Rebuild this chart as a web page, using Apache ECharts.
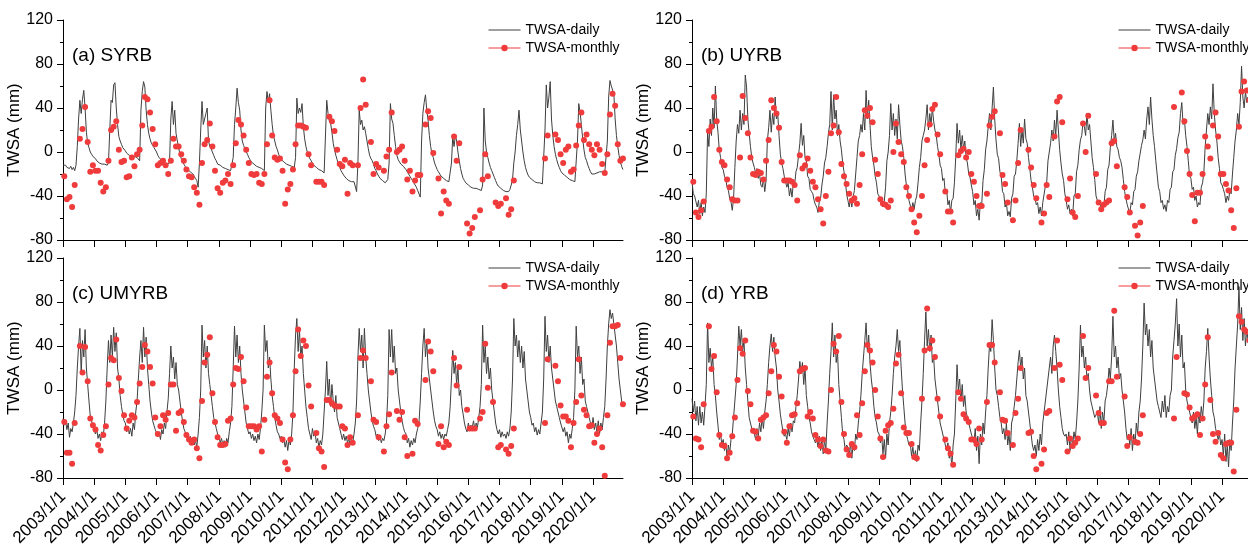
<!DOCTYPE html>
<html>
<head>
<meta charset="utf-8">
<script src="https://cdn.jsdelivr.net/npm/echarts@6/dist/echarts.min.js"></script>
<style>
  html, body { margin: 0; padding: 0; background: #fff; }
  #main { width: 1248px; height: 546px; }
</style>
</head>
<body>
<div id="main"></div>
<script type="text/javascript">
// tick labels of the time axis (decimal year -> label)
var tickYears = [2003, 2004, 2005, 2006, 2007, 2008, 2009, 2010, 2011, 2012, 2013, 2014, 2015, 2016, 2017, 2018, 2019, 2020];
var tickLabels = ['2003/1/1', '2004/1/1', '2005/1/1', '2006/1/1', '2007/1/1', '2008/1/1', '2009/1/1', '2010/1/1', '2011/1/1',
    '2012/1/1', '2013/1/1', '2014/1/1', '2015/1/1', '2016/1/1', '2017/1/1', '2018/1/1', '2019/1/1', '2020/1/1'];
var panelNames = ['(a) SYRB', '(b) UYRB', '(c) UMYRB', '(d) YRB'];

// daily TWSA, every half month (1st and 16th), one row per year 2003..2020
var dailyA = [
    [-12,-13,-12,-14,-13,-15,-13,-16,-14,-17,-12,5,30,47,35,48,56,40,18,8,4,0,-2,-4],
    [-5,-6,-8,-9,-10,-10,-11,-11,-11,-12,-12,-10,20,47,45,61,63,40,25,14,10,7,4,3],
    [1,-1,-2,-3,-3,-4,-4,-4,-5,-5,-5,-8,38,55,64,59,38,25,17,12,8,6,4,2],
    [0,-3,-5,-6,-8,-9,-10,-11,-11,-12,-10,30,46,25,38,17,10,4,-2,-6,-9,-11,-13,-14],
    [-16,-17,-18,-19,-20,-22,-24,-26,-32,-10,20,46,25,30,35,40,10,5,3,0,-3,-6,-8,-11],
    [-11,-12,-13,-14,-14,-15,-15,-16,-16,-17,-17,-5,25,40,58,45,38,20,10,6,3,0,-2,-5],
    [-7,-9,-10,-11,-12,-13,-13,-14,-15,-15,-16,-17,40,55,45,53,38,25,15,10,5,2,-2,-5],
    [-7,-8,-9,-10,-11,-12,-12,-13,-13,-14,-14,-5,49,35,40,36,44,23,12,5,0,-3,-6,-8],
    [-10,-12,-13,-14,-15,-16,-17,-17,-18,-19,-20,47,35,28,26,18,8,2,-3,-7,-11,-14,-17,-19],
    [-21,-22,-24,-25,-26,-26,-27,-27,-27,-28,-36,-10,38,25,29,20,23,17,10,3,-3,-6,-8,-11],
    [-15,-17,-20,-22,-24,-25,-26,-27,-28,-27,-25,-10,44,30,26,15,5,-3,-7,-9,-11,-12,-13,-14],
    [-16,-18,-20,-22,-24,-26,-28,-30,-32,-35,-38,-41,10,35,45,52,38,29,15,5,-2,-5,-10,-13],
    [-16,-18,-20,-22,-23,-24,-25,-26,-26,-27,-27,-10,14,5,15,10,0,-8,-15,-20,-24,-26,-28,-29],
    [-30,-31,-32,-32,-33,-33,-33,-34,-34,-34,-35,-30,40,10,0,-5,-10,-14,-17,-20,-23,-26,-29,-31],
    [-32,-33,-34,-35,-35,-36,-36,-36,-34,-30,-25,-10,0,15,25,38,20,10,0,-8,-14,-18,-21,-23],
    [-24,-25,-26,-27,-27,-28,-28,-28,-29,-29,-29,20,61,40,50,64,30,15,5,-2,-7,-11,-14,-17],
    [-19,-20,-21,-22,-23,-24,-25,-25,-26,-26,-27,-27,10,44,36,25,12,2,-5,-8,-12,-15,-18,-20],
    [-20,-20,-19,-19,-18,-18,-18,-18,-18,-19,-19,10,50,65,60,59,53,30,15,5,-3,-9,-13,-16]
];
var dailyB = [
    [-27,-38,-40,-45,-50,-44,-56,-46,-58,-50,-55,-38,18,5,30,15,40,22,60,30,18,2,-5,-14],
    [-16,-22,-25,-32,-35,-42,-45,-53,-42,-14,10,25,17,38,20,35,25,70,59,30,17,5,-5,-10],
    [-14,-20,-15,-24,-20,-30,-32,-24,-36,-26,10,22,38,18,35,25,50,30,35,15,-2,-10,-15,-22],
    [-22,-32,-28,-40,-33,-41,-28,-30,-18,-14,-3,8,26,6,15,-5,-8,-22,-24,-34,-36,-38,-44,-48],
    [-50,-55,-45,-42,-30,-22,-10,-5,5,17,25,55,20,52,30,38,15,25,10,2,-10,-18,-26,-38],
    [-44,-50,-42,-50,-41,-35,-20,-5,10,15,25,18,35,20,56,30,47,25,5,-5,-12,-22,-28,-38],
    [-40,-45,-44,-50,-45,-32,-8,0,15,44,20,35,15,30,12,43,25,10,5,-5,-20,-30,-35,-44],
    [-45,-53,-46,-52,-44,-40,-28,-14,-5,10,15,20,30,43,20,35,25,40,28,20,15,5,-2,-12],
    [-15,-26,-24,-38,-34,-48,-44,-55,-44,-42,-28,-5,26,8,20,2,15,3,10,-5,-10,-20,-23,-30],
    [-36,-48,-44,-58,-52,-62,-46,-48,-26,-16,2,10,23,35,20,40,59,30,11,-2,-6,-18,-22,-36],
    [-38,-50,-46,-58,-54,-59,-42,-38,-22,-20,-8,8,26,5,20,8,30,12,8,-5,-15,-26,-32,-40],
    [-42,-48,-46,-56,-50,-58,-46,-47,-31,-28,-8,0,8,20,10,29,15,38,20,2,-10,-20,-26,-38],
    [-44,-52,-48,-56,-52,-58,-40,-38,-18,-12,2,11,15,28,23,15,35,20,25,10,-5,-14,-25,-40],
    [-40,-48,-44,-52,-46,-50,-36,-32,-16,-12,4,15,29,10,17,5,2,-5,-8,-14,-25,-36,-42,-48],
    [-48,-56,-46,-48,-36,-34,-22,-18,-8,-8,6,11,20,12,30,41,25,50,30,15,5,-8,-20,-32],
    [-36,-46,-44,-52,-48,-54,-44,-46,-34,-32,-18,-16,-3,3,13,18,35,45,25,30,15,5,-8,-22],
    [-24,-34,-32,-44,-40,-50,-46,-48,-32,-28,-18,5,20,35,25,41,30,62,35,20,10,-5,-15,-28],
    [-30,-34,-38,-46,-40,-44,-35,-38,-20,-5,10,20,35,25,45,78,50,40,55,45,50,40,35,25]
];
var dailyC = [
    [-26,-32,-28,-36,-30,-43,-35,-38,-30,-20,-5,20,40,56,15,45,30,55,20,5,-10,-24,-28,-33],
    [-34,-40,-36,-44,-40,-46,-38,-42,-30,-10,20,45,25,50,30,57,35,52,20,10,-5,-15,-22,-28],
    [-30,-38,-33,-40,-35,-42,-30,-36,-20,-10,10,30,45,25,57,30,48,20,5,-10,-20,-28,-32,-36],
    [-35,-42,-38,-45,-36,-40,-30,-35,-20,-8,15,40,20,30,10,25,5,0,-10,-20,-28,-35,-38,-42],
    [-40,-46,-42,-48,-44,-50,-46,-52,-40,-25,0,59,30,45,20,40,15,5,-5,-15,-25,-30,-35,-40],
    [-42,-48,-44,-50,-46,-52,-44,-48,-38,-30,-15,20,58,30,50,25,40,15,0,-10,-20,-30,-35,-40],
    [-38,-44,-40,-46,-42,-48,-40,-45,-35,-20,0,59,35,45,20,30,10,-5,-15,-25,-32,-38,-40,-44],
    [-42,-48,-45,-52,-46,-55,-45,-50,-40,-20,20,50,65,35,55,30,40,15,0,-15,-25,-35,-40,-45],
    [-35,-42,-38,-48,-44,-52,-46,-50,-40,-20,0,26,-5,10,-15,5,-10,-20,-5,-25,-30,-35,-40,-45],
    [-40,-46,-42,-48,-44,-50,-45,-48,-40,-30,-10,30,56,35,50,20,56,30,15,0,-10,-20,-28,-33],
    [-36,-42,-40,-46,-42,-48,-44,-46,-40,-30,-5,55,30,55,25,40,15,20,0,-10,-20,-28,-34,-38],
    [-40,-48,-44,-52,-46,-50,-44,-48,-40,-35,-30,-10,15,40,56,30,45,20,10,0,-10,-20,-28,-33],
    [-36,-42,-38,-44,-40,-45,-40,-42,-36,-30,-15,10,36,15,25,5,20,-5,0,-15,-22,-30,-35,-38],
    [-30,-36,-32,-34,-28,-36,-30,-34,-25,-15,5,59,25,40,15,30,10,20,0,-10,-20,-30,-36,-40],
    [-36,-43,-38,-42,-40,-44,-38,-42,-35,-20,10,65,40,50,30,45,25,40,20,35,10,0,-10,-20],
    [-25,-32,-30,-38,-34,-41,-36,-40,-30,-20,10,67,35,50,25,40,20,10,0,-10,-15,-20,-25,-30],
    [-30,-38,-34,-42,-38,-48,-40,-44,-35,-25,0,58,30,40,15,30,5,10,-10,-15,-20,-25,-30,-35],
    [-25,-36,-30,-38,-28,-40,-30,-36,-25,-15,10,40,60,73,65,70,60,50,40,25,10,0,-10,-15]
];
var dailyD = [
    [-8,-20,-10,-28,-15,-32,-15,-30,-20,-32,-15,5,61,25,38,20,30,5,-5,-20,-32,-45,-40,-50],
    [-45,-55,-48,-62,-50,-58,-45,-40,-25,-10,5,30,58,40,55,35,45,20,5,-10,-25,-30,-35,-38],
    [-40,-45,-35,-42,-30,-38,-25,-35,-20,-10,5,25,40,51,35,48,30,20,0,-10,-22,-30,-38,-42],
    [-40,-45,-35,-42,-30,-38,-28,-30,-15,-5,10,26,15,25,5,20,-5,-15,-25,-30,-38,-42,-45,-48],
    [-45,-52,-42,-55,-45,-58,-45,-55,-30,-10,15,35,61,30,50,25,35,5,-10,-25,-40,-45,-55,-50],
    [-52,-60,-48,-62,-50,-55,-40,-45,-30,-20,-5,15,30,45,61,35,50,25,10,0,-15,-25,-30,-38],
    [-40,-48,-42,-58,-45,-62,-40,-50,-30,-20,-5,15,30,40,55,35,45,20,0,-15,-30,-40,-45,-50],
    [-48,-60,-52,-62,-55,-65,-50,-55,-30,-10,15,45,71,40,55,35,50,25,30,10,0,-10,-20,-30],
    [-30,-40,-45,-50,-55,-48,-62,-55,-70,-50,-40,-10,23,0,10,-10,5,-15,-5,-20,-25,-30,-35,-40],
    [-40,-48,-35,-55,-42,-67,-40,-50,-30,-40,-20,-5,20,41,35,64,45,20,0,-5,-15,-25,-30,-40],
    [-35,-45,-30,-50,-40,-55,-30,-25,-15,-5,10,25,36,20,30,10,20,-5,-10,-20,-30,-40,-50,-55],
    [-50,-60,-45,-55,-40,-50,-30,-20,-10,0,10,20,30,15,40,50,35,20,0,-15,-25,-35,-40,-42],
    [-40,-50,-38,-55,-42,-50,-38,-45,-30,-10,20,59,30,40,20,30,10,15,0,-10,-15,-20,-25,-25],
    [-20,-30,-15,-35,-20,-30,-10,-5,5,20,10,30,67,30,40,20,30,10,15,0,-10,-20,-35,-45],
    [-40,-50,-35,-55,-40,-50,-30,-40,-20,-10,10,40,79,50,60,40,55,30,45,20,10,0,-10,-15],
    [-15,-25,-10,-20,-5,-25,-15,-20,-5,0,30,45,60,83,40,60,30,50,20,25,0,-10,-15,-20],
    [-25,-30,-20,-35,-25,-40,-20,-30,-15,-25,-10,20,35,56,30,10,-5,-20,-25,-35,-40,-45,-40,-50],
    [-45,-60,-40,-65,-50,-70,-45,-55,-30,-10,20,40,60,94,55,75,45,65,40,55,45,50,40,35]
];

// monthly TWSA (mid-month), one row per year 2003..2020, null = no value
var monthlyA = [
    [-22,-43,-41,-50,-30,null,12,21,41,9,-18,-12],
    [-17,-17,-28,-36,-32,-8,20,23,28,2,-9,-8],
    [-23,-22,-5,-13,-2,2,24,50,48,36,21,7],
    [-12,-10,-8,-12,-20,-8,12,5,5,-2,-8,-16],
    [-22,-23,-32,-37,-48,-10,7,11,26,5,-17,-33],
    [-37,-28,-26,-20,-29,-12,8,29,25,15,2,-10],
    [-20,-21,-20,-28,-29,-20,7,47,15,-5,-7,-6],
    [-17,-47,-34,-29,-16,7,24,24,23,22,-2,-12],
    [null,-27,-27,-27,-30,null,32,28,19,2,-11,-13],
    [-7,-38,-10,-12,null,-12,40,66,43,null,9,-20],
    [-11,-14,null,-17,-4,2,36,null,0,2,5,-8],
    [-25,-17,-36,-26,-21,-21,null,25,37,31,-1,null],
    [-24,-56,-36,-44,-47,null,14,-8,8,null,null,-65],
    [-74,-69,-59,null,-53,-25,-2,-22,null,null,-46,-49],
    [-47,null,-42,-57,-52,-26,null,null,null,null,null,null],
    [null,null,null,null,null,-6,15,null,null,16,11,-2],
    [-10,2,5,-18,-16,6,24,36,11,16,7,2],
    [-3,7,2,-11,-19,-2,34,53,42,7,-8,-6]
];
var monthlyB = [
    [-27,-55,-59,-53,-45,null,19,23,50,28,2,-9],
    [-12,-25,-32,-43,-44,-44,-5,51,31,17,-5,-20],
    [-21,-18,-19,-25,-8,11,47,40,35,22,-9,-26],
    [-26,-26,-27,-30,-44,-3,-15,-12,-6,-17,-27,-32],
    [-43,-52,-65,-40,-18,17,24,50,18,-11,-22,-29],
    [-38,-44,-42,-47,-30,-2,38,33,40,27,-7,-20],
    [-43,-47,-48,-50,-44,0,26,9,-2,-9,-32,-40],
    [-52,-64,-73,-58,-40,-12,11,25,39,43,16,-2],
    [null,-36,-54,-54,-64,null,-3,1,3,-5,0,-20],
    [-27,-40,-49,-49,null,-38,24,32,37,null,17,-21],
    [-29,-46,null,-62,-44,-10,20,null,null,2,-14,-30],
    [-42,null,-64,-56,-30,-41,null,14,46,50,27,null],
    [-43,-24,-55,-59,-40,null,26,0,33,null,null,-20],
    [-46,-52,-48,-46,-44,8,10,-13,null,null,-32,-41],
    [-55,null,-67,-76,-64,-49,null,null,null,null,null,null],
    [null,null,null,null,null,41,null,null,54,28,1,-20],
    [-39,-63,-37,-37,-20,14,5,-6,24,36,14,-20],
    [-20,-29,-35,-53,-69,-33,23,55,64,56,47,30]
];
var monthlyC = [
    [-29,-57,-57,-67,-30,null,40,16,39,8,-26,-32],
    [-36,-50,-55,-41,-33,5,29,27,46,11,-1,-23],
    [-35,-28,-23,-25,-11,6,21,41,35,21,6,-25],
    [-40,-33,-23,-27,-21,5,5,-37,-21,-19,-29,-41],
    [-45,-48,-45,-53,-62,-10,25,32,48,-3,-29,-43],
    [-50,-50,-49,-28,-26,5,20,19,30,8,-16,-33],
    [-33,-33,-36,-33,-56,-27,12,25,-3,-23,-26,-30],
    [-45,-66,-72,-45,-23,17,55,31,45,40,4,-15],
    [null,-39,-53,-56,-70,-9,-9,-12,-14,-15,-15,-33],
    [-35,-50,-43,-48,null,-23,29,36,29,null,8,-27],
    [-29,-43,null,-56,-33,-22,16,null,-19,-27,-20,-43],
    [-60,null,-58,-28,-31,null,null,9,44,35,17,null],
    [-49,-33,-52,-47,-50,null,29,4,21,null,null,-18],
    [-35,-35,-35,null,-26,-20,42,2,null,-11,null,-52],
    [-50,null,-54,-58,-51,-35,null,null,null,null,null,null],
    [null,null,null,null,null,-30,28,null,null,22,8,-14],
    [-24,-24,-28,-52,-30,-11,28,-5,-18,-23,-33,-32],
    [-48,-40,-35,-52,-78,-23,43,58,58,59,29,-13]
];
var monthlyD = [
    [-24,-44,-45,-52,-13,null,58,19,31,-2,-41,-50],
    [-51,-62,-57,-42,-25,9,38,33,45,-1,-13,-37],
    [-38,-44,-27,-25,-23,-3,17,41,35,12,-6,-38],
    [-48,-33,-23,-22,-12,17,19,20,-24,-20,-26,-41],
    [-45,-51,-45,-55,-56,0,42,35,49,-11,-40,-54],
    [-59,-49,-52,-23,-41,-12,17,41,36,25,0,-24],
    [-44,-61,-37,-32,-30,-17,24,32,-3,-34,-39,-39],
    [-49,-61,-62,null,-8,36,74,38,45,30,-8,-24],
    [null,-45,-53,-58,-68,null,-2,-8,-22,-26,-29,-45],
    [-45,-49,-35,-45,null,-11,41,41,25,null,-2,-27],
    [-28,-39,null,-50,-21,-8,20,null,null,-39,-38,-60],
    [-72,null,-67,-54,-21,-19,null,20,45,23,9,null],
    [-56,-44,-51,-48,-44,null,49,11,20,null,null,-5],
    [-21,-30,-30,null,8,8,72,12,null,null,-6,-51],
    [-43,null,-47,-48,-40,-23,null,null,null,null,null,null],
    [null,null,null,null,null,-26,30,null,null,-3,-4,-16],
    [-26,-24,-22,-41,-26,5,48,-9,-40,-47,-39,-59],
    [-62,-49,-48,-48,-74,-18,67,62,55,53,45,30]
];

var FONT = '"Liberation Sans", Arial, Helvetica, sans-serif';
var RED = '#ef3b3b';
var GREY = '#3f3f3f';

function flat(rows) {
    return rows.reduce(function (a, r) { return a.concat(r); }, []);
}
function dailyPoints(rows) {
    return flat(rows).map(function (v, i) { return [2003 + i / 24, v]; });
}
function monthlyPoints(rows) {
    var out = [];
    flat(rows).forEach(function (v, j) {
        if (v !== null) out.push([2003 + (j + 0.5) / 12, v]);
    });
    return out;
}

var dailyAll = [dailyA, dailyB, dailyC, dailyD];
var monthlyAll = [monthlyA, monthlyB, monthlyC, monthlyD];

// panel placement
var lefts = [63, 692, 63, 692];
var tops = [20, 20, 258, 258];

var grids = [], xAxes = [], yAxes = [], series = [], legends = [], graphics = [];
for (var p = 0; p < 4; p++) {
    var bottomRow = p >= 2;
    grids.push({ left: lefts[p], top: tops[p], width: 560, height: 220, outerBoundsMode: 'none', containLabel: false });
    xAxes.push({
        type: 'value', gridIndex: p, min: 2003, max: 2020.96,
        axisLine: { onZero: false, lineStyle: { color: '#000', width: 1 } },
        axisTick: { length: 7, customValues: tickYears, lineStyle: { color: '#000' } },
        axisLabel: {
            show: bottomRow, rotate: 45, margin: 16, fontSize: 17, color: '#000', fontFamily: FONT,
            customValues: tickYears,
            formatter: function (v) { return tickLabels[tickYears.indexOf(Math.round(v))] || ''; }
        },
        splitLine: { show: false }
    });
    yAxes.push({
        type: 'value', gridIndex: p, min: -80, max: 120, interval: 40,
        name: 'TWSA (mm)', nameLocation: 'middle', nameGap: p % 2 ? 35 : 30,
        nameTextStyle: { fontSize: 17, color: '#000', fontFamily: FONT },
        axisLine: { show: true, onZero: false, lineStyle: { color: '#000', width: 1 } },
        axisTick: { show: true, length: 6, lineStyle: { color: '#000' } },
        minorTick: { show: true, splitNumber: 2, length: 3, lineStyle: { color: '#000' } },
        axisLabel: { fontSize: 16, margin: 10, color: '#000', fontFamily: FONT },
        splitLine: { show: false }
    });
    series.push({
        name: 'TWSA-daily', type: 'line', xAxisIndex: p, yAxisIndex: p,
        symbol: 'none', lineStyle: { color: GREY, width: 1 }, itemStyle: { color: GREY },
        data: dailyPoints(dailyAll[p]), z: 2
    });
    series.push({
        name: 'TWSA-monthly', type: 'line', xAxisIndex: p, yAxisIndex: p,
        symbol: 'circle', symbolSize: 6, showSymbol: true,
        itemStyle: { color: RED }, lineStyle: { color: RED, width: 0, opacity: 0 },
        data: monthlyPoints(monthlyAll[p]), z: 3
    });
    legends.push({
        orient: 'vertical', left: p % 2 ? 1113 : 483, top: tops[p] - 2,
        itemWidth: 32, itemHeight: 8, itemGap: 4,
        textStyle: { fontSize: 14, color: '#000', fontFamily: FONT },
        selectedMode: false,
        data: [
            { name: 'TWSA-daily', itemStyle: { opacity: 0 }, lineStyle: { color: GREY, width: 1, opacity: 1 } },
            { name: 'TWSA-monthly', itemStyle: { color: RED }, lineStyle: { color: RED, width: 1, opacity: 1 } }
        ]
    });
    graphics.push({
        type: 'text', left: lefts[p] + 9, top: tops[p] + 26,
        style: { text: panelNames[p], fontSize: 19, fill: '#000', fontFamily: FONT }
    });
}

var myChart = echarts.init(document.getElementById('main'));
myChart.setOption({
    animation: false,
    textStyle: { fontFamily: FONT },
    grid: grids,
    xAxis: xAxes,
    yAxis: yAxes,
    legend: legends,
    graphic: graphics,
    series: series
});
</script>
</body>
</html>
